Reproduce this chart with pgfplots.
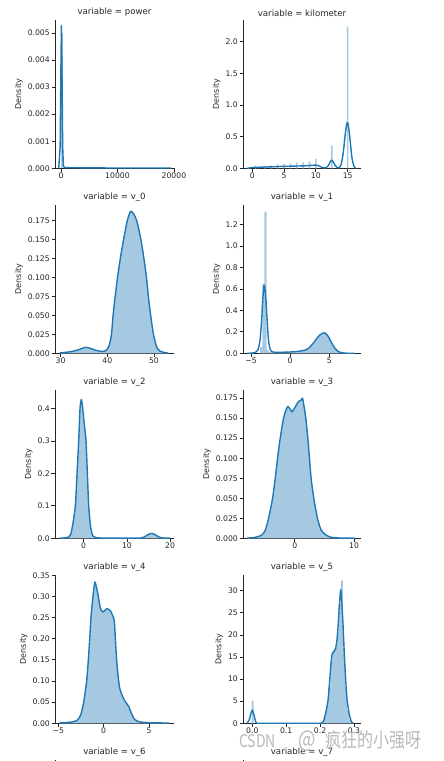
\documentclass[border=0pt]{standalone}
\usepackage{graphicx}
\usepackage{pgfplots}
\pgfplotsset{compat=1.18}
\usepackage{fontspec}
\setmainfont{DejaVu Sans}
\newfontfamily\cjk{Noto Sans CJK SC}
\definecolor{kdeblue}{HTML}{1F77B4}
\definecolor{histblue}{RGB}{165,201,225}
\definecolor{ink}{HTML}{262626}
\pgfplotsset{
  facet/.style={
    scale only axis, width=119pt, height=148.5pt, anchor=south west,
    axis x line*=bottom, axis y line*=left,
    axis line style={ink, line width=0.8pt, -},
    tick align=outside, major tick length=3.5pt,
    tick style={ink, line width=0.8pt},
    scaled ticks=false,
    tick label style={font=\fontsize{7.7}{9}\selectfont, text=ink},
    xticklabel style={inner sep=1pt},
    yticklabel style={inner sep=1.5pt},
    label style={font=\fontsize{8}{9.5}\selectfont, text=ink},
    title style={font=\fontsize{8.6}{10}\selectfont, text=ink, yshift=-6pt},
    ylabel={Density},
    ymin=0,
  },
  kde/.style={kdeblue, line width=1.4pt, line join=round, mark=none},
  histarea/.style={fill=histblue, draw=none, mark=none},
  histbar/.style={ybar, bar shift=0pt, fill=histblue, draw=none, mark=none},
}
\begin{document}
\begin{tikzpicture}
\useasboundingbox (0,0) rectangle (444pt,761pt);
\clip (0,0) rectangle (444pt,761pt);

% ---------- power ----------
\begin{axis}[facet, at={(55pt,592.7pt)}, title={variable = power},
  xmin=-1062, xmax=20010, ymax=0.00549,
  xtick={0,10000,20000}, xticklabels={0,10000,20000},
  ytick={0,0.001,0.002,0.003,0.004,0.005},
  yticklabels={0.000,0.001,0.002,0.003,0.004,0.005}]
\addplot[histbar, bar width=300] coordinates {(150,0.0050)};
\addplot[kde] coordinates {
(-400,0) (-150,0.0008) (0,0.0040) (80,0.00527) (180,0.0035) (300,0.0008)
(420,0.0001) (600,0.00003) (2000,0.00002) (10000,0.00001) (19300,0.00001) (19500,0)};
\end{axis}

% ---------- kilometer ----------
\begin{axis}[facet, at={(243pt,592.7pt)}, width=118pt, title={variable = kilometer},
  xmin=-1.46, xmax=17.1, ymax=2.346,
  xtick={0,5,10,15}, xticklabels={0,5,10,15},
  ytick={0,0.5,1,1.5,2}, yticklabels={0.0,0.5,1.0,1.5,2.0}]
\addplot[histbar, bar width=0.25] coordinates {
(0.5,0.037) (1,0.02) (2,0.042) (3,0.047) (4,0.063) (5,0.073) (6,0.079) (7,0.089)
(8,0.094) (9,0.11) (10,0.147) (12.5,0.357) (15,2.24)};
\addplot[kde, smooth, tension=0.4] coordinates {
(-0.8,0) (-0.4,0.006) (0,0.012) (0.5,0.016) (1.0,0.017) (1.5,0.018) (2.0,0.02)
(2.5,0.022) (3.0,0.023) (3.5,0.025) (4.0,0.027) (4.5,0.029) (5.0,0.031) (5.5,0.032)
(6.0,0.033) (6.5,0.034) (7.0,0.036) (7.5,0.037) (8.0,0.038) (8.5,0.04) (9.0,0.043)
(9.5,0.048) (10.0,0.05) (10.4,0.042) (10.8,0.022) (11.2,0.006) (11.6,0.006)
(12.0,0.05) (12.3,0.11) (12.5,0.13) (12.7,0.11) (13.0,0.05) (13.4,0.006)
(13.7,0.012) (14.0,0.07) (14.3,0.24) (14.6,0.52) (14.85,0.70) (15.0,0.72)
(15.2,0.62) (15.45,0.38) (15.7,0.15) (16.0,0.03) (16.3,0)};
\end{axis}

% ---------- v_0 ----------
\begin{axis}[facet, at={(55pt,407.7pt)}, title={variable = v\_0},
  xmin=28.8, xmax=54.3, ymax=0.1956,
  xtick={30,40,50}, xticklabels={30,40,50},
  ytick={0,0.025,0.05,0.075,0.1,0.125,0.15,0.175},
  yticklabels={0.000,0.025,0.050,0.075,0.100,0.125,0.150,0.175}]
\pgfplotstableread{
x y
29.8 0.0005
31.0 0.0012
32.5 0.0025
34.0 0.005
35.4 0.0079
36.6 0.006
37.8 0.0035
39.0 0.0025
39.8 0.004
40.4 0.01
40.9 0.025
41.25 0.05
41.7 0.075
42.2 0.1
42.8 0.125
43.5 0.15
44.3 0.175
45.0 0.187
45.6 0.184
46.3 0.175
47.2 0.15
47.85 0.125
48.4 0.1
48.8 0.075
49.3 0.05
49.9 0.025
50.6 0.008
51.3 0.003
52.2 0.001
53.1 0.0003
}\vzero
\addplot[histarea, smooth, tension=0.4] table {\vzero} \closedcycle;
\addplot[kde, smooth, tension=0.4] table {\vzero};
\end{axis}

% ---------- v_1 ----------
\begin{axis}[facet, at={(243pt,407.7pt)}, width=118pt, title={variable = v\_1},
  xmin=-6.02, xmax=9.03, ymax=1.386,
  xtick={-5,0,5}, xticklabels={−5,0,5},
  ytick={0,0.2,0.4,0.6,0.8,1.0,1.2}, yticklabels={0.0,0.2,0.4,0.6,0.8,1.0,1.2}]
\addplot[histbar, bar width=0.27] coordinates {
(-3.695,0.06) (-3.425,0.65) (-3.155,1.32) (-2.885,0.03)
(-2.615,0.012) (-2.345,0.008) (-2.075,0.008) (-1.805,0.008) (-1.535,0.009)
(-1.265,0.009) (-0.995,0.01) (-0.725,0.01) (-0.455,0.011) (-0.185,0.012)
(0.085,0.012) (0.355,0.014) (0.625,0.016) (0.895,0.018) (1.165,0.02)
(1.435,0.023) (1.705,0.027) (1.975,0.033) (2.245,0.042) (2.515,0.056)
(2.785,0.075) (3.055,0.10) (3.325,0.13) (3.595,0.155) (3.865,0.178)
(4.135,0.19) (4.405,0.2) (4.675,0.18) (4.945,0.15) (5.215,0.11)
(5.485,0.072) (5.755,0.045) (6.025,0.024) (6.295,0.012) (6.565,0.006)
(6.835,0.003) (7.105,0.002) (7.375,0.001) (7.645,0.0008) (7.915,0.0005) (8.185,0.0003)};
\addplot[kde, smooth, tension=0.35] coordinates {
(-5.5,0) (-4.9,0.002) (-4.45,0.008) (-4.1,0.035) (-3.85,0.12) (-3.65,0.30)
(-3.5,0.50) (-3.35,0.63) (-3.25,0.62) (-3.1,0.50) (-2.95,0.32) (-2.8,0.15)
(-2.63,0.055) (-2.4,0.018) (-2.0,0.01) (-1.0,0.01) (0.0,0.012) (0.5,0.015)
(1.0,0.018) (1.5,0.024) (1.9,0.03) (2.3,0.045) (2.6,0.065) (3.0,0.1) (3.4,0.14)
(3.8,0.172) (4.2,0.19) (4.5,0.186) (4.85,0.158) (5.3,0.095) (5.7,0.048)
(6.1,0.018) (6.6,0.005) (7.2,0.001) (8.2,0)};
\end{axis}

% ---------- v_2 ----------
\begin{axis}[facet, at={(55pt,222.7pt)}, title={variable = v\_2},
  xmin=-6.64, xmax=20.9, ymax=0.4577,
  xtick={0,10,20}, xticklabels={0,10,20},
  ytick={0,0.1,0.2,0.3,0.4}, yticklabels={0.0,0.1,0.2,0.3,0.4}]
\pgfplotstableread{
x y
-5.5 0.0005
-4.5 0.001
-3.5 0.004
-3.0 0.012
-2.5 0.045
-1.93 0.1
-1.54 0.2
-1.16 0.3
-0.85 0.4
-0.54 0.428
-0.23 0.4
0.15 0.35
0.54 0.3
0.85 0.2
1.16 0.1
1.6 0.035
2.1 0.008
2.8 0.002
4.0 0.001
7.0 0.0005
11.0 0.0005
13.2 0.001
14.0 0.004
14.7 0.01
15.3 0.014
15.8 0.015
16.4 0.012
17.0 0.007
17.6 0.003
18.5 0.001
20.0 0.0003
}\vtwo
\addplot[histarea, smooth, tension=0.4] table {\vtwo} \closedcycle;
\addplot[kde, smooth, tension=0.4] table {\vtwo};
\end{axis}

% ---------- v_3 ----------
\begin{axis}[facet, at={(243pt,222.7pt)}, width=118pt, title={variable = v\_3},
  xmin=-8.76, xmax=11.18, ymax=0.1854,
  xtick={0,10}, xticklabels={0,10},
  ytick={0,0.025,0.05,0.075,0.1,0.125,0.15,0.175},
  yticklabels={0.000,0.025,0.050,0.075,0.100,0.125,0.150,0.175}]
\pgfplotstableread{
x y
-8.1 0.0003
-6.8 0.001
-5.6 0.004
-5.0 0.01
-4.44 0.025
-3.76 0.05
-3.31 0.075
-2.92 0.1
-2.47 0.125
-1.91 0.15
-1.5 0.16
-1.18 0.1646
-0.85 0.162
-0.5 0.158
0.0 0.163
0.62 0.171
1.0 0.172
1.29 0.175
1.55 0.165
1.85 0.15
2.19 0.125
2.47 0.1
2.75 0.075
3.2 0.05
3.82 0.025
4.4 0.011
5.1 0.005
6.0 0.0015
7.5 0.0004
10.2 0.0001
}\vthree
\addplot[histarea, smooth, tension=0.4] table {\vthree} \closedcycle;
\addplot[kde, smooth, tension=0.4] table {\vthree};
\end{axis}

% ---------- v_4 ----------
\begin{axis}[facet, at={(55pt,37.7pt)}, title={variable = v\_4},
  xmin=-5.37, xmax=7.76, ymax=0.351,
  xtick={-5,0,5}, xticklabels={−5,0,5},
  ytick={0,0.05,0.1,0.15,0.2,0.25,0.3,0.35},
  yticklabels={0.00,0.05,0.10,0.15,0.20,0.25,0.30,0.35}]
\pgfplotstableread{
x y
-4.85 0.001
-4.0 0.002
-3.3 0.004
-2.94 0.007
-2.65 0.015
-2.46 0.025
-2.2 0.05
-1.875 0.1
-1.69 0.15
-1.54 0.2
-1.40 0.25
-1.18 0.3
-0.96 0.334
-0.66 0.308
-0.37 0.273
-0.11 0.263
0.37 0.271
0.74 0.266
1.03 0.253
1.18 0.241
1.29 0.2
1.47 0.138
1.73 0.087
2.02 0.067
2.39 0.051
2.76 0.04
3.05 0.024
3.38 0.01
3.86 0.004
4.8 0.0016
7.2 0.0005
}\vfour
\addplot[histarea, smooth, tension=0.35] table {\vfour} \closedcycle;
\addplot[kde, smooth, tension=0.35] table {\vfour};
\end{axis}

% ---------- v_5 ----------
\begin{axis}[facet, at={(243pt,37.7pt)}, width=118pt, title={variable = v\_5},
  xmin=-0.0275, xmax=0.3206, ymax=33.6,
  xtick={0,0.1,0.2,0.3}, xticklabels={0.0,0.1,0.2,0.3},
  ytick={0,5,10,15,20,25,30}, yticklabels={0,5,10,15,20,25,30}]
\addplot[histbar, bar width=0.0062] coordinates {
(0.001,5.1) (0.2082,0.3) (0.2144,1.5) (0.2206,4.0) (0.2268,8.0) (0.2330,14.0)
(0.2392,16.5) (0.2454,17.0) (0.2516,20.5) (0.2578,27.0) (0.2640,32.3)
(0.2702,17.0) (0.2764,8.0) (0.2826,3.0) (0.2888,0.8) (0.2950,0.2)};
\addplot[kde, smooth, tension=0.35] coordinates {
(-0.0157,0) (-0.009,0.8) (-0.005,2.0) (0.0,3.0) (0.005,1.9) (0.009,0.6)
(0.014,0.02) (0.05,0.01) (0.15,0.01) (0.205,0.05) (0.214,1.5) (0.2235,5.3)
(0.2306,12.1) (0.2353,15.6) (0.245,16.7) (0.251,19.7) (0.256,25.8) (0.261,30.2)
(0.2668,23.5) (0.2726,13.7) (0.2785,6.1) (0.2853,2.3) (0.292,0.4) (0.298,0)};
\end{axis}

% ---------- v_6 / v_7 (cut off) ----------
\begin{axis}[facet, at={(55pt,-147.3pt)}, title={variable = v\_6},
  xmin=0, xmax=1, ymax=1, xtick=\empty, ytick=\empty, ylabel={}]
\end{axis}
\begin{axis}[facet, at={(243pt,-147.3pt)}, width=118pt, title={variable = v\_7},
  xmin=0, xmax=1, ymax=1, xtick=\empty, ytick=\empty, ylabel={}]
\end{axis}

\node[font=\cjk, text=gray!55, anchor=west, inner sep=0pt]
  at (239pt,20pt) {\scalebox{0.8}[1]{{\fontsize{17.5}{20}\selectfont CSDN\ \hspace{25pt}}{\fontsize{23}{25}\selectfont @\hspace{12pt}}{\fontsize{20}{22}\selectfont 疯狂的小强呀}}};
\end{tikzpicture}
\end{document}
